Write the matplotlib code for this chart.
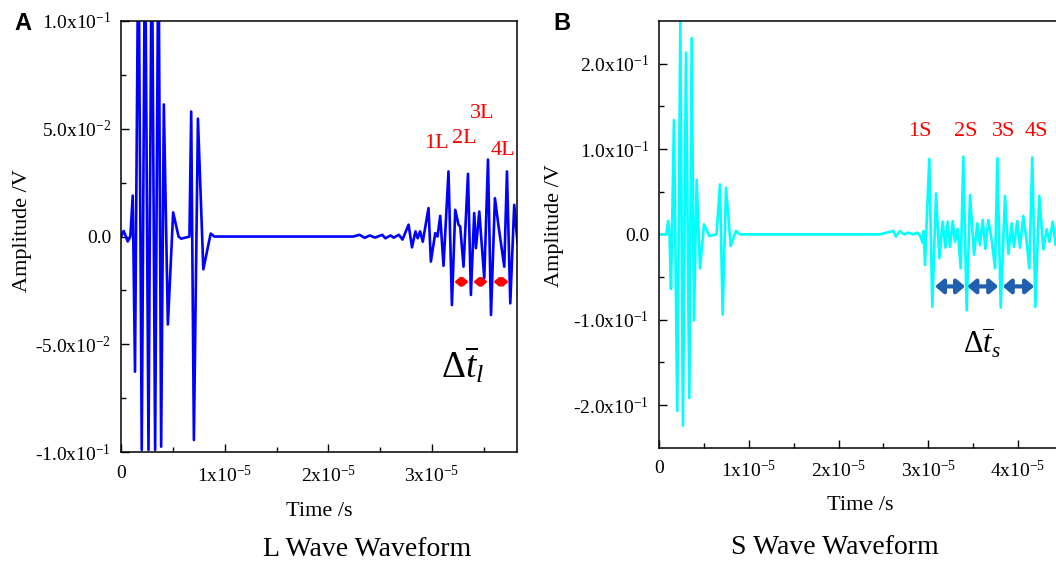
import numpy as np
import matplotlib
matplotlib.use("Agg")
import matplotlib.pyplot as plt

plt.rcParams['font.family'] = ['Liberation Serif', 'DejaVu Serif']
plt.rcParams['mathtext.fontset'] = 'custom'
plt.rcParams['mathtext.rm'] = 'Liberation Serif'
plt.rcParams['mathtext.it'] = 'Liberation Serif:italic'
plt.rcParams['mathtext.bf'] = 'Liberation Serif:bold'

# ---- L wave (panel A): time in units of 1e-5 s, amplitude in V ----
t_l = [0.0, 0.026, 0.065, 0.09, 0.113, 0.135, 0.168, 0.200, 0.232, 0.265, 0.297, 0.329,
       0.361, 0.387, 0.413, 0.452, 0.503, 0.555, 0.58, 0.66, 0.677, 0.703, 0.742, 0.794,
       0.865, 0.90,
       2.24, 2.30, 2.35, 2.40, 2.45, 2.52, 2.55, 2.60, 2.63, 2.68, 2.715, 2.774, 2.807,
       2.84, 2.862, 2.885, 2.911,
       2.966, 2.989, 3.031, 3.053, 3.079, 3.111, 3.159, 3.192, 3.224, 3.256, 3.272, 3.304,
       3.347, 3.375, 3.407, 3.424, 3.456, 3.504, 3.540, 3.569, 3.607, 3.642, 3.697, 3.723,
       3.755, 3.793, 3.825]
amp_l = [0.0, 0.0026, -0.0023, 0.0, 0.019, -0.0627, 0.15, -0.099, 0.15, -0.099, 0.15, -0.099,
         0.15, -0.0975, 0.0613, -0.0408, 0.0112, 0.0, -0.001, 0.0, 0.058, -0.0944, 0.0547, -0.0152,
         0.0014, 0.0,
         0.0, 0.0008, -0.0006, 0.0005, -0.0005, 0.0008, -0.0008, 0.0005, -0.0005, 0.0008, -0.0014,
         0.0055, -0.005, 0.0024, -0.0008, 0.0024, -0.0024,
         0.0132, -0.0116, 0.0016, 0.0, 0.0096, -0.0136, 0.0302, -0.0318, 0.0124, 0.0054, 0.0047,
         -0.014, 0.0291, -0.0271, 0.0109, -0.0054, 0.0116, -0.0194, 0.0357, -0.0364, 0.0178,
         0.0047, -0.014, 0.0302, -0.031, 0.0147, -0.003]

# ---- S wave (panel B) ----
t_s = [0.0, 0.08, 0.10, 0.115, 0.132, 0.165, 0.202, 0.236, 0.265, 0.299, 0.336, 0.362, 0.388,
       0.418, 0.455, 0.50, 0.559, 0.64, 0.678, 0.708, 0.745, 0.797, 0.856, 0.90,
       2.46, 2.61, 2.64, 2.685, 2.73, 2.777, 2.833, 2.88, 2.91,
       2.937, 2.948, 2.963, 3.011, 3.045, 3.086, 3.123, 3.16, 3.19, 3.216, 3.242, 3.272,
       3.298, 3.328, 3.361, 3.39, 3.428, 3.465, 3.51, 3.546, 3.576, 3.606, 3.636, 3.669,
       3.707, 3.744, 3.77, 3.807, 3.855, 3.892, 3.93, 3.955, 3.992, 4.022, 4.059, 4.097,
       4.126, 4.159, 4.193, 4.237, 4.282, 4.32, 4.35, 4.387, 4.42, 4.46]
amp_s = [0.0, 0.0, 0.0156, 0.002, -0.064, 0.134, -0.207, 0.249, -0.224, 0.213, -0.192, 0.23, -0.101,
         0.064, -0.04, 0.0117, -0.002, 0.0, 0.0585, -0.094, 0.0546, -0.0137, 0.004, 0.0,
         0.0, 0.0039, -0.0027, 0.0039, 0.0, 0.002, 0.0, 0.002, -0.002,
         -0.0098, 0.004, -0.036, 0.0884, -0.085, 0.048, -0.028, 0.0149, -0.0156, 0.0149, -0.0146,
         0.0156, -0.0088, 0.0063, -0.04, 0.0912, -0.089, 0.046, -0.024, 0.0129, -0.0125, 0.0168,
         -0.017, 0.0168, -0.0067, -0.04, 0.0892, -0.086, 0.045, -0.023, 0.0129, -0.0146, 0.0156,
         -0.0156, 0.0215, -0.0088, -0.04, 0.09, -0.085, 0.045, -0.0176, 0.0059, -0.0088, 0.0149,
         -0.0127, 0.01]

# peak labels and interval arrows
peak_labels_l = ['1L', '2L', '3L', '4L']
peak_label_t_l = [3.047, 3.31, 3.48, 3.683]
peak_label_a_l = [0.0431, 0.0454, 0.057, 0.040]
arrows_l = [(3.217, 3.352), (3.40, 3.535), (3.594, 3.738)]
arrow_y_l = -0.021

peak_labels_s = ['1S', '2S', '3S', '4S']
peak_label_t_s = [2.907, 3.42, 3.844, 4.20]
peak_label_a_s = [0.121, 0.121, 0.121, 0.121]
arrows_s = [(3.075, 3.41), (3.435, 3.78), (3.83, 4.18)]
arrow_y_s = -0.061

fig = plt.figure(figsize=(10.56, 5.63), dpi=100)
axA = fig.add_axes([0.1146, 0.197, 0.375, 0.7657])
axB = fig.add_axes([0.6242, 0.2048, 0.3823, 0.7579])

axA.plot(np.array(t_l) * 1e-5, amp_l, color='#0000ff', linewidth=1.9)
axB.plot(np.array(t_s) * 1e-5, amp_s, color='#00ffff', linewidth=1.9)

axA.set_xlim(0, 3.82e-5)
axA.set_ylim(-0.1, 0.1)
axB.set_xlim(0, 4.5e-5)
axB.set_ylim(-0.25, 0.25)

axA.set_xticks([0, 1e-5, 2e-5, 3e-5])
axA.set_xticklabels(['0', '1x10$^{-5}$', '2x10$^{-5}$', '3x10$^{-5}$'])
axA.set_xticks([0.5e-5, 1.5e-5, 2.5e-5, 3.5e-5], minor=True)
axA.set_yticks([-0.1, -0.05, 0.0, 0.05, 0.1])
axA.set_yticklabels(['-1.0x10$^{-1}$', '-5.0x10$^{-2}$', '0.0', '5.0x10$^{-2}$', '1.0x10$^{-1}$'])
axA.set_yticks([-0.075, -0.025, 0.025, 0.075], minor=True)

axB.set_xticks([0, 1e-5, 2e-5, 3e-5, 4e-5])
axB.set_xticklabels(['0', '1x10$^{-5}$', '2x10$^{-5}$', '3x10$^{-5}$', '4x10$^{-5}$'])
axB.set_xticks([0.5e-5, 1.5e-5, 2.5e-5, 3.5e-5], minor=True)
axB.set_yticks([-0.2, -0.1, 0.0, 0.1, 0.2])
axB.set_yticklabels(['-2.0x10$^{-1}$', '-1.0x10$^{-1}$', '0.0', '1.0x10$^{-1}$', '2.0x10$^{-1}$'])
axB.set_yticks([-0.15, -0.05, 0.05, 0.15], minor=True)

for ax in (axA, axB):
    ax.tick_params(which='major', direction='in', length=5.5, width=1.0, labelsize=14, pad=7)
    ax.tick_params(which='minor', direction='in', length=3.5, width=1.0)
    ax.tick_params(axis='x', which='major', pad=9)
    for sp in ax.spines.values():
        sp.set_linewidth(1.1)
    ax.set_xlabel('Time /s', fontsize=16, va='center')
    ax.set_ylabel('Amplitude /V', fontsize=16, va='center')

axA.xaxis.set_label_coords(0.50, -0.138)
axA.yaxis.set_label_coords(-0.25, 0.515)
axB.xaxis.set_label_coords(0.499, -0.135)
axB.yaxis.set_label_coords(-0.258, 0.52)

for lab, tx, ay in zip(peak_labels_l, peak_label_t_l, peak_label_a_l):
    axA.text(tx * 1e-5, ay, lab, color='red', fontsize=16, ha='center', va='center')
for lab, tx, ay in zip(peak_labels_s, peak_label_t_s, peak_label_a_s):
    axB.text(tx * 1e-5, ay, lab, color='red', fontsize=16, ha='center', va='center')

# double-headed interval arrows
for t0, t1 in arrows_l:
    axA.annotate('', xy=(t1 * 1e-5, arrow_y_l), xytext=(t0 * 1e-5, arrow_y_l),
                 arrowprops=dict(arrowstyle='<|-|>,head_length=0.4,head_width=0.35',
                                 color='red', lw=2.2, mutation_scale=7,
                                 shrinkA=0, shrinkB=0))
for t0, t1 in arrows_s:
    axB.annotate('', xy=(t1 * 1e-5, arrow_y_s), xytext=(t0 * 1e-5, arrow_y_s),
                 arrowprops=dict(arrowstyle='<|-|>,head_length=0.35,head_width=0.3',
                                 color='#1f5fb0', lw=3.0, mutation_scale=14,
                                 shrinkA=0, shrinkB=0))

axA.text(3.30e-5, -0.0597, r'$\Delta\overline{t}_l$', fontsize=27, ha='center', va='center')
axB.text(3.60e-5, -0.128, r'$\Delta\overline{t}_s$', fontsize=22, ha='center', va='center')

fig.text(23 / 1056, 1 - 24 / 563, 'A', fontsize=17, fontweight='bold',
         family='Liberation Sans', ha='center', va='center')
fig.text(562 / 1056, 1 - 23 / 563, 'B', fontsize=17, fontweight='bold',
         family='Liberation Sans', ha='center', va='center')

fig.text(367 / 1056, 1 - 550 / 563, 'L Wave Waveform', fontsize=20, ha='center', va='center')
fig.text(835 / 1056, 1 - 548 / 563, 'S Wave Waveform', fontsize=20, ha='center', va='center')

fig.savefig('out.png', dpi=100)
